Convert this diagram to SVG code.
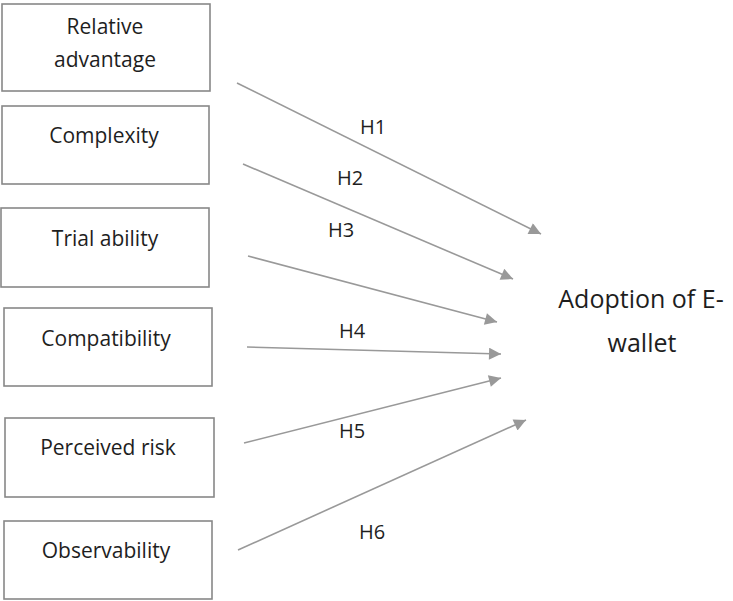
<svg xmlns="http://www.w3.org/2000/svg" width="733" height="601" viewBox="0 0 733 601">
<style>
.box{fill:#fff;stroke:#888;stroke-width:1.6}
.lbl{font-family:"Open Sans","Liberation Sans",sans-serif;font-size:21px;fill:#1e1e1e;text-anchor:middle}
.h{font-family:"Open Sans","Liberation Sans",sans-serif;font-size:20px;fill:#1e1e1e}
.big{font-family:"Open Sans","Liberation Sans",sans-serif;font-size:25px;fill:#1e1e1e;text-anchor:middle}
.c{stroke:#999;stroke-width:1.6;fill:none;marker-end:url(#ah)}
</style>
<defs>
<marker id="ah" viewBox="0 0 10 10" refX="10" refY="5" markerWidth="14" markerHeight="12" markerUnits="userSpaceOnUse" orient="auto">
<path d="M0,0 L10,5 L0,10 Z" fill="#999"/>
</marker>
</defs>
<rect width="733" height="601" fill="#fff"/>
<g id="n1"><rect class="box" x="2" y="4" width="208" height="87"/><text class="lbl" x="105" y="34">Relative</text><text class="lbl" x="105" y="67">advantage</text></g>
<g id="n2"><rect class="box" x="2" y="106" width="207" height="78"/><text class="lbl" x="104" y="143">Complexity</text></g>
<g id="n3"><rect class="box" x="1" y="208" width="208" height="79"/><text class="lbl" x="105" y="246">Trial ability</text></g>
<g id="n4"><rect class="box" x="4" y="308" width="208" height="78"/><text class="lbl" x="106" y="346">Compatibility</text></g>
<g id="n5"><rect class="box" x="5" y="418" width="209" height="79"/><text class="lbl" x="108" y="455">Perceived risk</text></g>
<g id="n6"><rect class="box" x="4" y="521" width="208" height="78"/><text class="lbl" x="106" y="558">Observability</text></g>
<g id="target"><text class="big" x="641" y="308">Adoption of E-</text><text class="big" x="642" y="352">wallet</text></g>
<g id="connectors">
<line class="c" x1="237" y1="83" x2="541" y2="234"/>
<line class="c" x1="243" y1="164" x2="513" y2="279"/>
<line class="c" x1="248" y1="256" x2="497" y2="322"/>
<line class="c" x1="247" y1="347" x2="501" y2="354"/>
<line class="c" x1="244" y1="443" x2="501" y2="378"/>
<line class="c" x1="238" y1="550" x2="526" y2="420"/>
<text class="h" x="360" y="134">H1</text>
<text class="h" x="337" y="185">H2</text>
<text class="h" x="328" y="237">H3</text>
<text class="h" x="339" y="338">H4</text>
<text class="h" x="339" y="438">H5</text>
<text class="h" x="359" y="539">H6</text>
</g>
</svg>
